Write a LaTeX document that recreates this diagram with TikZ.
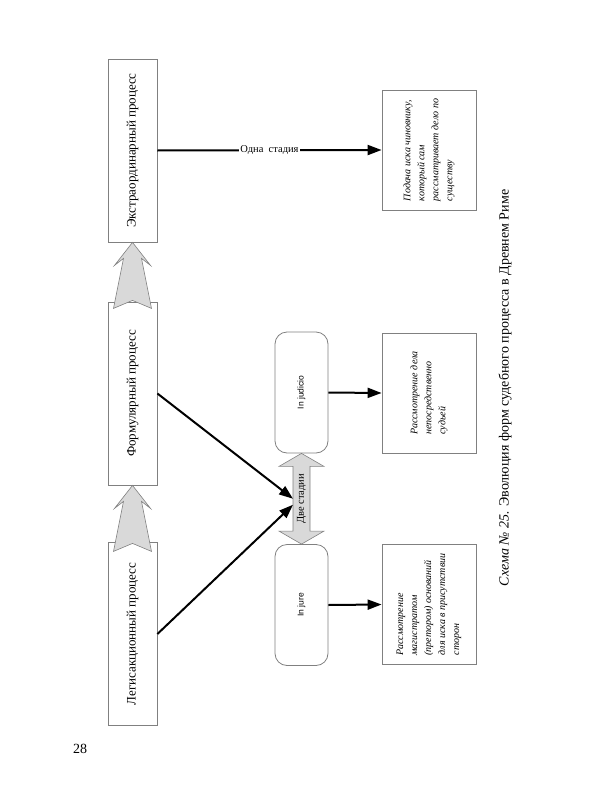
\documentclass[tikz,border=0pt]{standalone}
\usepackage{fontspec}
\setmainfont{Liberation Serif}
\newfontfamily\boxsans{Liberation Sans}
\usetikzlibrary{calc, arrows.meta}
\definecolor{framec}{RGB}{128,128,128}
\definecolor{bigfill}{RGB}{217,217,217}

\begin{document}
\begin{tikzpicture}[x=1pt, y=-1pt, >={Triangle[length=14pt, width=10pt]},
  procbox/.style={draw=framec, line width=0.8pt, rotate=90, minimum width=183pt, minimum height=49pt, inner sep=0pt, font=\fontsize{13}{15}\selectfont},
  stagebox/.style={draw=framec, line width=0.8pt, rounded corners=12pt, rotate=90, minimum width=121pt, minimum height=53pt, font=\boxsans\fontsize{8.5}{10}\selectfont},
  descbox/.style={draw=framec, line width=0.8pt, rotate=90, minimum width=120pt, minimum height=94pt, align=left, font=\itshape\fontsize{10}{14}\selectfont},
  link/.style={->, line width=2pt},
  bigarrow/.style={fill=bigfill, draw=framec, line width=0.6pt}]

% page is 600 x 800, 1pt = 1px, y grows downwards
\useasboundingbox (0,0) rectangle (600,800);

%% ── three forms of process (left column) ─────────────────────────
\node[procbox] (extra)    at (132.5,150.5) {Экстраординарный процесс};
\node[procbox] (formular) at (132.5,393.5) {Формулярный процесс};
\node[procbox] (legis)    at (132.5,634)   {Легисакционный процесс};

%% ── stages of the formular process ───────────────────────────────
\node[stagebox] (judicio) at (301.5,392.5) {In judicio};
\node[stagebox] (jure)    at (301.5,605)   {In jure};

%% ── descriptions (right column) ──────────────────────────────────
\node[descbox] (single) at (429,150) {Подача иска чиновнику,\\который сам\\рассматривает дело по\\существу};
\node[descbox] (judiciodesc) at (429,393) {Рассмотрение дела\\непосредственно\\судьей};
\node[descbox] (juredesc) at (429,604.5) {Рассмотрение\\магистратом\\(претором) оснований\\для иска в присутствии\\сторон};

%% ── evolution arrows ─────────────────────────────────────────────
\draw[bigarrow, shift={(extra.west)}] (0,0) -- (-18,23) -- (-9,16) -- (-19,66) -- (0,58) -- (19,66) -- (9,16) -- (18,23) -- cycle;
\draw[bigarrow, shift={(formular.west)}] (0,0) -- (-18,23) -- (-9,16) -- (-19,66) -- (0,58) -- (19,66) -- (9,16) -- (18,23) -- cycle;

%% ── two stages: double arrow ─────────────────────────────────────
\draw[bigarrow] (judicio.west) -- ($(judicio.west)+(-22.5,13)$) -- ($(judicio.west)+(-8.5,13)$)
  -- ($(jure.east)+(-8.5,-13)$) -- ($(jure.east)+(-22.5,-13)$) -- (jure.east)
  -- ($(jure.east)+(22.5,-13)$) -- ($(jure.east)+(8.5,-13)$)
  -- ($(judicio.west)+(8.5,13)$) -- ($(judicio.west)+(22.5,13)$) -- cycle;
\node[rotate=90, font=\fontsize{10.5}{12}\selectfont] (stages) at ($(judicio.west)!0.5!(jure.east)$) {Две стадии};
\coordinate (meetup)   at ($(stages)+(-8.5,0)$);
\coordinate (meetdown) at ($(stages)+(-8.5,6)$);

%% ── connectors ───────────────────────────────────────────────────
\draw[link] (extra.south) -- node[fill=white, inner sep=1pt, font=\fontsize{10.5}{12}\selectfont] {Одна\ \ стадия} (single.north);
\draw[link] (formular.south) -- (meetup);
\draw[link] (legis.south) -- (meetdown);
\draw[link] (judicio.south) -- (judiciodesc.north);
\draw[link] (jure.south) -- (juredesc.north);

%% ── caption and page number ──────────────────────────────────────
\node[rotate=90, font=\fontsize{14}{16}\selectfont] (caption) at (505,388) {\textit{Схема №~25.} Эволюция форм судебного процесса в Древнем Риме};
\node[font=\fontsize{14}{16}\selectfont] (pagenum) at (80,749) {28};

\end{tikzpicture}
\end{document}
